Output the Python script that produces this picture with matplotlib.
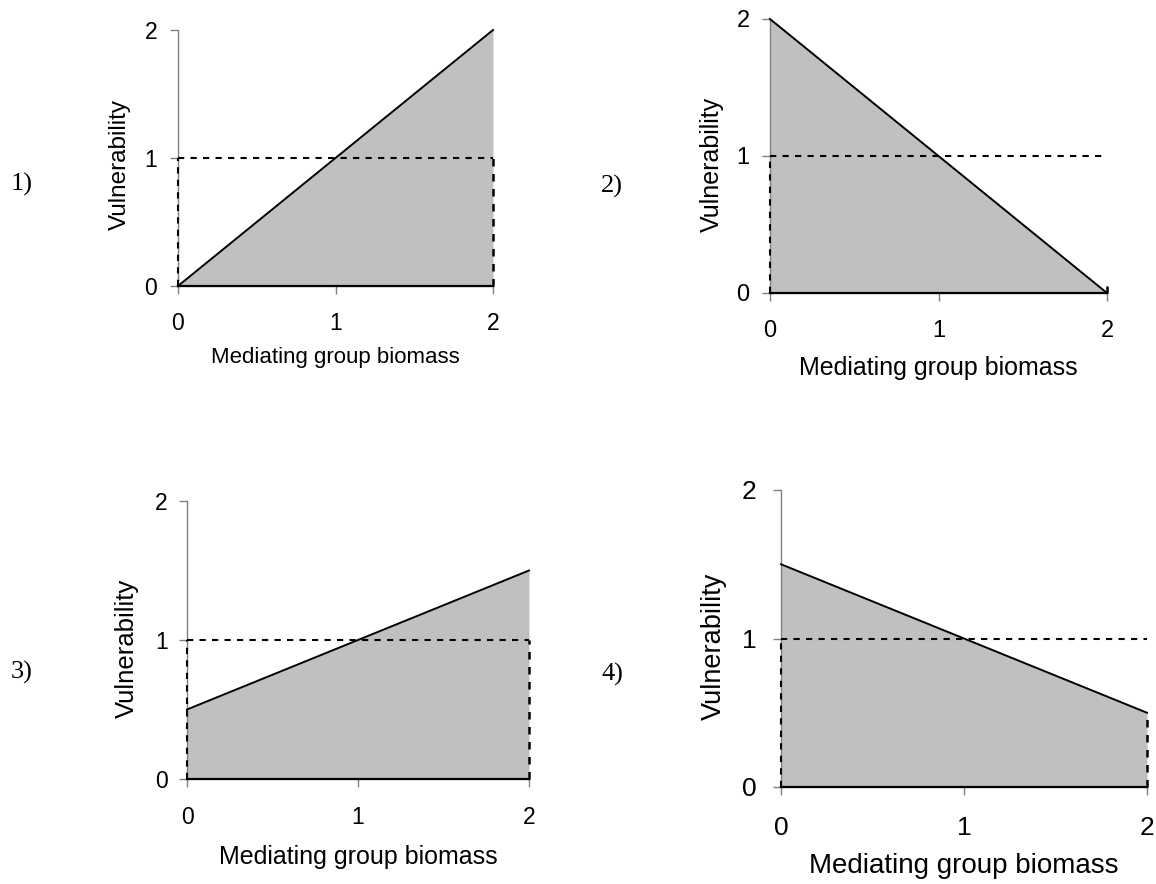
import matplotlib.pyplot as plt

# figure size in pixels
W, H = 1156, 884

# data: biomass (x) and vulnerability (y) at the two ends of each panel
biomass = [0, 2]
vuln_1 = [0.0, 2.0]
vuln_2 = [2.0, 0.0]
vuln_3 = [0.5, 1.5]
vuln_4 = [1.5, 0.5]
reference = [1, 1]          # dashed line v = 1
right_dash = [1.0, 0.05, 1.0, 0.5]
ticks = [0, 1, 2]
panel_names = ["1)", "2)", "3)", "4)"]

# layout in pixels: (x0, ytop, x2, ybottom)
boxes = [(178, 30, 493, 286), (770, 19, 1107, 293),
         (187, 501, 529, 779), (781, 490, 1147, 787)]
# text placement and sizes per panel
name_pos = [(22, 184), (612, 186), (22, 672), (612, 674)]
ylab_pos = [(120, 165), (712, 164), (127, 648), (714, 646)]
xlab_pos = [(335, 358), (938, 368), (358, 857), (964, 866)]
tick_size = [16.5, 17, 16.5, 19]
lab_size = [16, 18, 18, 20]
ylab_size = [17.5, 18, 18.5, 19.5]
xpad = [12.5, 13.5, 13.5, 15]
ypad = [9, 8.6, 8, 11.5]


def px(x, y):
    return x / W, 1 - y / H


def draw_panel(fig, i, vals):
    x0, yt, x2, yb = boxes[i]
    left, bottom = px(x0, yb)
    ax = fig.add_axes([left, bottom, (x2 - x0) / W, (yb - yt) / H])
    ax.set_xlim(0, 2)
    ax.set_ylim(0, 2)

    ax.fill_between(biomass, [0, 0], vals, color="#c0c0c0", lw=0)
    ax.plot(biomass, vals, color="black", lw=1.4, clip_on=False, zorder=4)
    ax.plot(biomass, [0, 0], color="black", lw=1.6, clip_on=False, zorder=4)

    dash = (0, (3, 3))
    ax.plot(biomass, reference, color="black", lw=1.5, ls=dash, clip_on=False, zorder=3)
    ax.plot([0, 0], [0, 1], color="black", lw=1.5, ls=dash, clip_on=False, zorder=3)
    ax.plot([2, 2], [0, right_dash[i]], color="black", lw=1.8, ls=dash,
            clip_on=False, zorder=3)

    for s in ["top", "right"]:
        ax.spines[s].set_visible(False)
    ax.spines["left"].set_color("#808080")
    ax.spines["left"].set_linewidth(1)
    ax.spines["bottom"].set_color("black")

    ax.set_xticks(ticks)
    ax.set_yticks(ticks)
    ax.tick_params(axis="both", direction="out", length=6, width=1,
                   color="#808080", labelsize=tick_size[i])
    ax.tick_params(axis="x", pad=xpad[i])
    ax.tick_params(axis="y", pad=ypad[i])
    for lab in ax.get_xticklabels() + ax.get_yticklabels():
        lab.set_fontfamily("Liberation Sans")

    fx, fy = px(*xlab_pos[i])
    fig.text(fx, fy, "Mediating group biomass", ha="center", va="center",
             fontsize=lab_size[i], family="Liberation Sans")
    fx, fy = px(*ylab_pos[i])
    fig.text(fx, fy, "Vulnerability", ha="center", va="center", rotation=90,
             fontsize=ylab_size[i], family="Liberation Sans")
    fx, fy = px(*name_pos[i])
    fig.text(fx, fy, panel_names[i], ha="center", va="center",
             fontsize=19, family="Liberation Serif")
    return ax


fig = plt.figure(figsize=(W / 100, H / 100), dpi=100)
for i, vals in enumerate([vuln_1, vuln_2, vuln_3, vuln_4]):
    draw_panel(fig, i, vals)

fig.savefig("out.png", dpi=100)
